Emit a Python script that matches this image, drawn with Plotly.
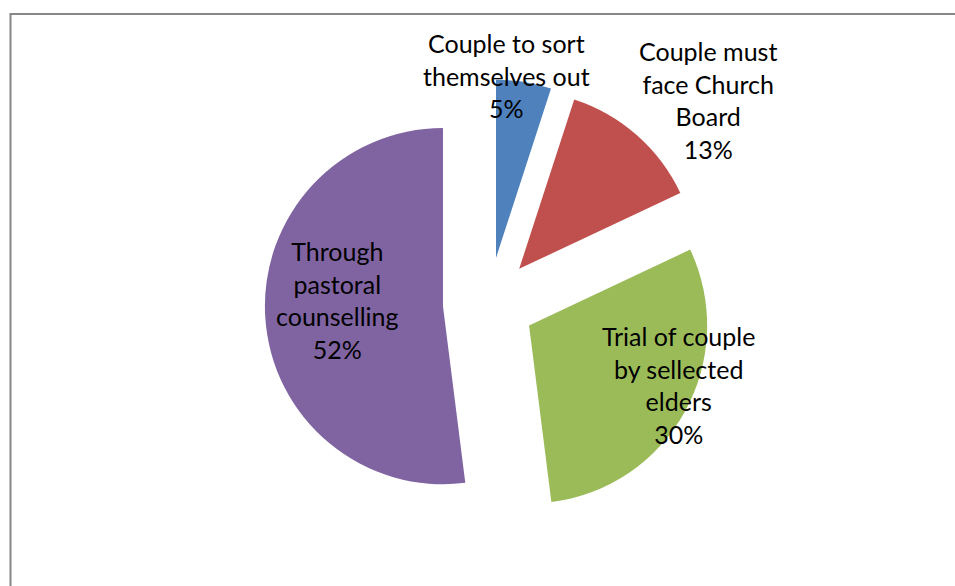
import plotly.graph_objects as go

# Responses: how marital disputes should be resolved
labels = [
    "Couple to sort<br>themselves out",
    "Couple must<br>face Church<br>Board",
    "Trial of couple<br>by sellected<br>elders",
    "Through<br>pastoral<br>counselling",
]
values = [5, 13, 30, 52]
colors = ["#4F81BD", "#C0504D", "#9BBB59", "#8064A2"]

W, H = 955, 586
total = sum(values)

fig = go.Figure(
    go.Pie(
        labels=labels,
        values=values,
        sort=False,
        direction="clockwise",
        rotation=0,
        pull=[0.258] * len(values),
        marker=dict(colors=colors, line=dict(width=0)),
        textinfo="none",
        hoverinfo="label+percent",
        showlegend=False,
        domain=dict(x=[0.2773, 0.7464], y=[0.1002, 0.8647]),
    )
)

# data label anchor points (pixel centres of each text block)
label_pos = [(506, 75), (708, 100), (678, 385), (337, 300)]
for lab, val, (px, py) in zip(labels, values, label_pos):
    fig.add_annotation(
        x=px / W, y=1 - py / H, xref="paper", yref="paper",
        text=f"{lab}<br>{round(val / total * 100)}%",
        showarrow=False, xanchor="center", yanchor="middle", align="center",
        font=dict(family="Lato, Carlito, Calibri, sans-serif", size=25, color="#000000"),
    )

# chart-area frame
fig.add_shape(
    type="rect", xref="paper", yref="paper",
    x0=10.5 / W, y0=1 - 14 / H, x1=1.02, y1=-0.02,
    line=dict(color="#868686", width=2), fillcolor="rgba(0,0,0,0)",
)

fig.update_layout(
    width=W, height=H,
    margin=dict(l=0, r=0, t=0, b=0),
    paper_bgcolor="white",
    plot_bgcolor="white",
)

fig.write_html("out.html")
